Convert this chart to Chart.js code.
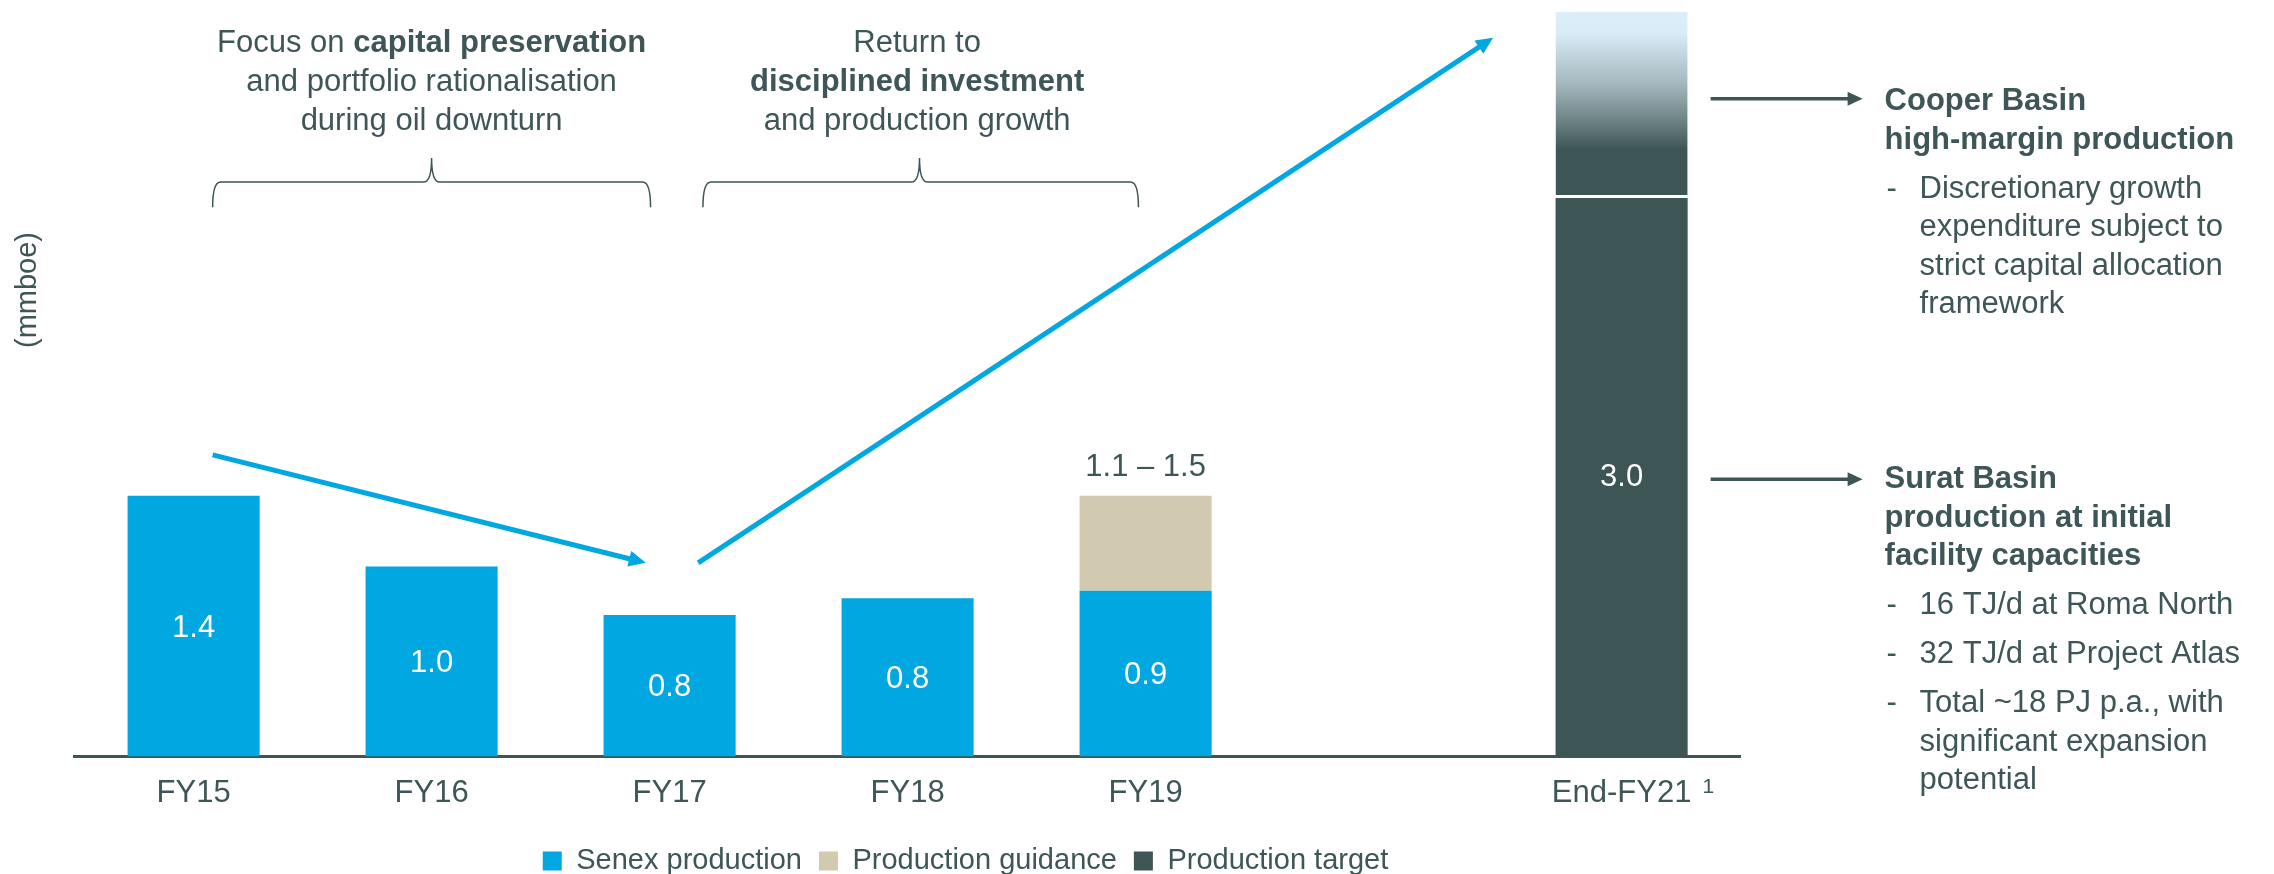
<!DOCTYPE html>
<html>
<head>
<meta charset="utf-8">
<script src="https://cdn.jsdelivr.net/npm/chart.js@4/dist/chart.umd.min.js"></script>
<style>
html,body{margin:0;padding:0;background:#ffffff;}
#wrap{width:2274px;height:874px;position:relative;}
</style>
</head>
<body>
<div id="wrap"><canvas id="c"></canvas></div>
<script>
// ---------- data ----------
const categories = ['FY15', 'FY16', 'FY17', 'FY18', 'FY19', '', 'End-FY21'];
const footnoteMarks = [null, null, null, null, null, null, '1'];
const senexProduction = [1.40, 1.02, 0.76, 0.85, 0.89, null, null];
const productionGuidance = [null, null, null, null, 0.51, null, null];
const productionTarget = [null, null, null, null, null, null, 3.0];
const cooperUpside = [null, null, null, null, null, null, 1.0];
const senexLabels = ['1.4', '1.0', '0.8', '0.8', '0.9', null, null];
const guidanceLabel = '1.1 \u2013 1.5';
const targetLabel = '3.0';
const yAxisTitle = '(mmboe)';
const yMax = 4.02;

const topNotes = [
  { center: 1.0, lines: [[['Focus on ', false], ['capital preservation', true]], [['and portfolio rationalisation', false]], [['during oil downturn', false]]] },
  { center: 3.04, lines: [[['Return to', false]], [['disciplined investment', true]], [['and production growth', false]]] }
];
const braces = [ { from: 0.08, to: 1.92, mid: 1.0 }, { from: 2.14, to: 3.97, mid: 3.05 } ];
const trendArrows = [ { from: [0.08, 1.62], to: [1.90, 1.04] }, { from: [2.12, 1.04], to: [5.46, 3.86] } ];
const cooperNote = { head: ['Cooper Basin', 'high-margin production'], bullets: [['Discretionary growth', 'expenditure subject to', 'strict capital allocation', 'framework']] };
const suratNote = { head: ['Surat Basin', 'production at initial', 'facility capacities'], bullets: [['16 TJ/d at Roma North'], ['32 TJ/d at Project Atlas'], ['Total ~18 PJ p.a., with', 'significant expansion', 'potential']] };

// ---------- style ----------
const FONT = "'Liberation Sans', Arial, Helvetica, sans-serif";
const DARK = '#3E5556';
const TEXT = '#3E5657';
const BLUE = '#00A7E1';
const BEIGE = '#D1CAB1';

function arrow(ctx, x1, y1, x2, y2, color, lw, headLen, headHalf) {
  const a = Math.atan2(y2 - y1, x2 - x1);
  const bx = x2 - headLen * Math.cos(a), by = y2 - headLen * Math.sin(a);
  ctx.save();
  ctx.strokeStyle = color; ctx.fillStyle = color; ctx.lineWidth = lw; ctx.lineCap = 'butt';
  ctx.beginPath(); ctx.moveTo(x1, y1); ctx.lineTo(bx + Math.cos(a), by + Math.sin(a)); ctx.stroke();
  ctx.beginPath(); ctx.moveTo(x2, y2);
  ctx.lineTo(bx - headHalf * Math.sin(a), by + headHalf * Math.cos(a));
  ctx.lineTo(bx + headHalf * Math.sin(a), by - headHalf * Math.cos(a));
  ctx.closePath(); ctx.fill();
  ctx.restore();
}

function mixedLine(ctx, segs, cx, y, size) {
  let total = 0;
  const ws = segs.map(s => { ctx.font = (s[1] ? 'bold ' : '') + size + 'px ' + FONT; const w = ctx.measureText(s[0]).width; total += w; return w; });
  let x = cx - total / 2;
  segs.forEach((s, i) => { ctx.font = (s[1] ? 'bold ' : '') + size + 'px ' + FONT; ctx.fillText(s[0], x, y); x += ws[i]; });
}

function noteBlock(ctx, note, x, y0, size) {
  const lh = 38.5, gap = 49;
  let y = y0;
  ctx.font = 'bold ' + size + 'px ' + FONT;
  note.head.forEach((t, i) => { if (i) y += lh; ctx.fillText(t, x, y); });
  ctx.font = size + 'px ' + FONT;
  note.bullets.forEach(b => {
    y += gap;
    ctx.fillText('-', x + 2, y);
    b.forEach((t, i) => { if (i) y += lh; ctx.fillText(t, x + 35, y); });
  });
}

const annotations = {
  id: 'annotations',
  afterDatasetsDraw(chart) {
    const ctx = chart.ctx;
    const xs = chart.scales.x, ys = chart.scales.y;
    const area = chart.chartArea;
    const m0 = chart.getDatasetMeta(0), m1 = chart.getDatasetMeta(1), m2 = chart.getDatasetMeta(2), m3 = chart.getDatasetMeta(3);
    ctx.save();
    ctx.textBaseline = 'middle'; ctx.textAlign = 'center';
    // value labels
    ctx.fillStyle = '#ffffff'; ctx.font = '31px ' + FONT;
    m0.data.forEach((el, i) => { if (senexLabels[i]) ctx.fillText(senexLabels[i], el.x, (el.y + el.base) / 2 + 2); });
    const t = m2.data[6];
    ctx.fillText(targetLabel, t.x, (t.y + t.base) / 2);
    const g = m1.data[4];
    ctx.fillStyle = TEXT;
    ctx.fillText(guidanceLabel, g.x, g.y - 28);
    // footnote superscripts next to tick labels
    ctx.textAlign = 'left'; ctx.textBaseline = 'alphabetic';
    footnoteMarks.forEach((mk, i) => {
      if (!mk) return;
      ctx.font = '31px ' + FONT;
      const w = ctx.measureText(categories[i]).width;
      ctx.font = '21px ' + FONT;
      ctx.fillText(mk, xs.getPixelForValue(i) + w / 2 + 11, area.bottom + 36);
    });
    ctx.textAlign = 'center'; ctx.textBaseline = 'middle';
    // y title
    ctx.save();
    ctx.translate(27.5, 290); ctx.rotate(-Math.PI / 2);
    ctx.font = '29px ' + FONT; ctx.fillStyle = TEXT;
    ctx.fillText(yAxisTitle, 0, 0);
    ctx.restore();
    // trend arrows
    trendArrows.forEach(a => {
      arrow(ctx, xs.getPixelForValue(a.from[0]), ys.getPixelForValue(a.from[1]), xs.getPixelForValue(a.to[0]), ys.getPixelForValue(a.to[1]), BLUE, 5, 17, 8);
    });
    // braces
    ctx.strokeStyle = DARK; ctx.lineWidth = 1.5;
    braces.forEach(b => {
      const x0 = xs.getPixelForValue(b.from), x1 = xs.getPixelForValue(b.to), xm = xs.getPixelForValue(b.mid);
      const yb = ys.getPixelForValue(2.95), yh = ys.getPixelForValue(3.085), yt = ys.getPixelForValue(3.214);
      const r = 8;
      ctx.beginPath();
      ctx.moveTo(x0, yb);
      ctx.quadraticCurveTo(x0, yh, x0 + r, yh);
      ctx.lineTo(xm - r, yh);
      ctx.quadraticCurveTo(xm, yh, xm, yt);
      ctx.quadraticCurveTo(xm, yh, xm + r, yh);
      ctx.lineTo(x1 - r, yh);
      ctx.quadraticCurveTo(x1, yh, x1, yb);
      ctx.stroke();
    });
    // top notes
    ctx.textAlign = 'left'; ctx.textBaseline = 'alphabetic'; ctx.fillStyle = TEXT;
    const baselines = [52, 91, 130];
    topNotes.forEach(n => {
      const cx = xs.getPixelForValue(n.center);
      n.lines.forEach((segs, i) => mixedLine(ctx, segs, cx, baselines[i], 31));
    });
    // right arrows
    const c = m3.data[6];
    const barRight = c.x + c.width / 2;
    const tipX = area.right + 122;
    arrow(ctx, barRight + 23, (c.y + c.base) / 2 - 6, tipX, (c.y + c.base) / 2 - 6, DARK, 3.5, 15, 7);
    arrow(ctx, barRight + 23, (t.y + t.base) / 2 + 2, tipX, (t.y + t.base) / 2 + 2, DARK, 3.5, 15, 7);
    // right notes
    ctx.fillStyle = TEXT;
    noteBlock(ctx, cooperNote, area.right + 144, 110, 31);
    noteBlock(ctx, suratNote, area.right + 144, 488, 31);
    ctx.restore();
  }
};

function cooperGradient(context) {
  const chart = context.chart;
  const ys = chart.scales.y;
  if (!chart.chartArea || !ys) return DARK;
  const top = ys.getPixelForValue(4.0), bot = ys.getPixelForValue(3.0);
  const gr = chart.ctx.createLinearGradient(0, top, 0, bot);
  gr.addColorStop(0, '#DCEEFA');
  gr.addColorStop(0.12, '#D8EBF6');
  gr.addColorStop(0.38, '#A6B9C0');
  gr.addColorStop(0.58, '#6E8486');
  gr.addColorStop(0.74, DARK);
  gr.addColorStop(1, DARK);
  return gr;
}

new Chart(document.getElementById('c'), {
  type: 'bar',
  data: {
    labels: categories,
    datasets: [
      { label: 'Senex production', data: senexProduction, backgroundColor: BLUE },
      { label: 'Production guidance', data: productionGuidance, backgroundColor: BEIGE },
      { label: 'Production target', data: productionTarget, backgroundColor: DARK },
      { label: 'Cooper Basin upside', data: cooperUpside, backgroundColor: cooperGradient, borderColor: '#ffffff', borderWidth: { top: 0, left: 0, right: 0, bottom: 3 }, borderSkipped: false }
    ]
  },
  options: {
    responsive: true,
    maintainAspectRatio: false,
    animation: false,
    devicePixelRatio: 1,
    layout: { padding: { top: 8, left: 0, right: 343, bottom: -11.5 } },
    datasets: { bar: { barPercentage: 0.555, categoryPercentage: 1.0 } },
    scales: {
      x: {
        stacked: true,
        grid: { display: false, drawTicks: false },
        border: { display: true, color: DARK, width: 3 },
        ticks: { color: TEXT, padding: 21, font: { size: 31, family: FONT, lineHeight: 1 }, autoSkip: false, maxRotation: 0 }
      },
      y: {
        stacked: true, min: 0, max: yMax,
        grid: { display: false, drawTicks: false },
        border: { display: false },
        ticks: { display: false },
        afterFit: s => { s.width = 74.6; }
      },
      y2: {
        position: 'right', min: 0, max: 1,
        grid: { display: false, drawTicks: false },
        border: { display: false },
        ticks: { display: false },
        afterFit: s => { s.width = 190.4; }
      }
    },
    plugins: {
      tooltip: { enabled: false },
      legend: {
        position: 'bottom',
        labels: {
          boxWidth: 19, boxHeight: 19, padding: 17, color: TEXT,
          font: { size: 29, family: FONT },
          filter: item => item.datasetIndex !== 3
        }
      }
    }
  },
  plugins: [annotations]
});
</script>
</body>
</html>
